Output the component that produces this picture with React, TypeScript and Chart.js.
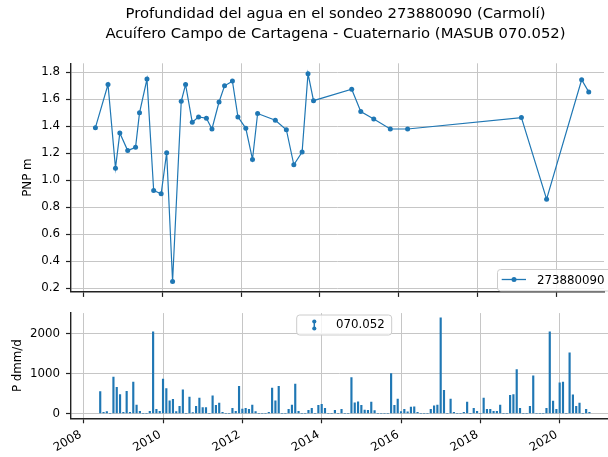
import React, { useEffect, useRef } from "react";
import { Chart, registerables } from "chart.js";

Chart.register(...registerables);

// ---------- data ----------
const titleLines = [
  "Profundidad del agua en el sondeo 273880090 (Carmolí)",
  "Acuífero Campo de Cartagena - Cuaternario (MASUB 070.052)",
];
const depthSeriesName = "273880090";
const precipSeriesName = "070.052";
const depthYLabel = "PNP m";
const precipYLabel = "P dmm/d";

const yearTicks = [2008, 2010, 2012, 2014, 2016, 2018, 2020];
const depthTicks = [0.2, 0.4, 0.6, 0.8, 1.0, 1.2, 1.4, 1.6, 1.8];
const precipTicks = [0, 1000, 2000];

// decimal years of the depth readings
const depthYears = [
  2008.30, 2008.62, 2008.81, 2008.92, 2009.12, 2009.32, 2009.42, 2009.61, 2009.78, 2009.97,
  2010.11, 2010.26, 2010.48, 2010.59, 2010.76, 2010.92, 2011.12, 2011.26, 2011.44, 2011.58,
  2011.78, 2011.92, 2012.12, 2012.29, 2012.42, 2012.87, 2013.15, 2013.34, 2013.55, 2013.70,
  2013.84, 2014.81, 2015.04, 2015.37, 2015.79, 2016.23, 2019.12, 2019.76, 2020.65, 2020.83,
];
const depthValues = [
  1.39, 1.71, 1.09, 1.35, 1.22, 1.245, 1.50, 1.75, 0.925, 0.90,
  1.205, 0.25, 1.585, 1.71, 1.43, 1.47, 1.46, 1.38, 1.58, 1.70,
  1.735, 1.47, 1.385, 1.155, 1.495, 1.445, 1.375, 1.115, 1.21, 1.79,
  1.59, 1.675, 1.51, 1.455, 1.38, 1.38, 1.465, 0.86, 1.745, 1.655,
];

// monthly precipitation, first month below
const precipStartYear = 2008;
const precipStartMonth = 6;
const precipValues = [
  548, 30, 50, 0, 913, 659, 476,
  30, 556, 30, 786, 214, 56, 0, 0, 56, 2048, 103, 56,
  865, 627, 318, 357, 48, 183, 595, 0, 413, 24, 183, 389,
  151, 151, 0, 445, 206, 262, 30, 0, 0, 127, 56, 683,
  111, 127, 103, 214, 48, 0, 0, 0, 30, 635, 318, 683,
  0, 0, 103, 214, 738, 56, 0, 0, 79, 127, 0, 206,
  230, 127, 0, 0, 79, 0, 103, 0, 0, 900, 270, 290,
  206, 87, 79, 286, 71, 0, 0, 0, 0, 1000, 206, 365,
  50, 103, 40, 159, 167, 30, 0, 0, 0, 103, 190, 214,
  2398, 580, 0, 365, 30, 0, 0, 30, 286, 0, 127, 56,
  0, 389, 103, 103, 56, 56, 214, 0, 0, 453, 476, 1104,
  127, 0, 0, 183, 945, 0, 0, 0, 127, 2048, 310, 103,
  770, 786, 0, 1524, 468, 183, 262, 0, 103, 30,
];

// ---------- style ----------
const BLUE = "#1f77b4";
const AXIS = "#222222";
const GRID = "#c6c6c6";
const FAMILY = "'DejaVu Sans', sans-serif";
const TICK_SIZE = 11.8;
const TITLE_SIZE = 14.8;
const X_MIN = 2007.68;
const X_MAX = 2021.218;
const W = 608;
const TOP_H = 305;
const BOT_TOP = 300;
const BOT_H = 157;

function roundRect(ctx: any, x: number, y: number, w: number, h: number, r: number) {
  ctx.beginPath();
  ctx.moveTo(x + r, y);
  ctx.lineTo(x + w - r, y);
  ctx.arcTo(x + w, y, x + w, y + r, r);
  ctx.lineTo(x + w, y + h - r);
  ctx.arcTo(x + w, y + h, x + w - r, y + h, r);
  ctx.lineTo(x + r, y + h);
  ctx.arcTo(x, y + h, x, y + h - r, r);
  ctx.lineTo(x, y + r);
  ctx.arcTo(x, y, x + r, y, r);
  ctx.closePath();
}

function drawYLabel(ctx: any, text: string, x: number, y: number) {
  ctx.save();
  ctx.translate(x, y);
  ctx.rotate(-Math.PI / 2);
  ctx.font = `${TICK_SIZE}px ${FAMILY}`;
  ctx.fillStyle = "#000";
  ctx.textAlign = "center";
  ctx.textBaseline = "alphabetic";
  ctx.fillText(text, 0, 0);
  ctx.restore();
}

const topPlugin = {
  id: "topDecor",
  afterDraw(chart: any) {
    const ctx = chart.ctx;
    const area = chart.chartArea;
    ctx.save();
    ctx.fillStyle = "#000";
    ctx.font = `${TITLE_SIZE}px ${FAMILY}`;
    ctx.textAlign = "center";
    ctx.textBaseline = "alphabetic";
    ctx.fillText(titleLines[0], 335.5, 18.3);
    ctx.fillText(titleLines[1], 335.5, 37.6);
    drawYLabel(ctx, depthYLabel, 30.5, (area.top + area.bottom) / 2);

    // legend
    roundRect(ctx, 497.5, 269.5, 118, 21.5, 3);
    ctx.fillStyle = "rgba(255,255,255,0.8)";
    ctx.fill();
    ctx.strokeStyle = "#cccccc";
    ctx.lineWidth = 1;
    ctx.stroke();
    ctx.strokeStyle = BLUE;
    ctx.lineWidth = 1.3;
    ctx.beginPath();
    ctx.moveTo(501.7, 279.5);
    ctx.lineTo(526, 279.5);
    ctx.stroke();
    ctx.fillStyle = BLUE;
    ctx.beginPath();
    ctx.arc(514, 279.5, 2.5, 0, Math.PI * 2);
    ctx.fill();
    ctx.fillStyle = "#000";
    ctx.font = `${TICK_SIZE}px ${FAMILY}`;
    ctx.textAlign = "left";
    ctx.fillText(depthSeriesName, 537, 283.6);
    ctx.restore();
  },
};

const botPlugin = {
  id: "botDecor",
  afterDraw(chart: any) {
    const ctx = chart.ctx;
    const area = chart.chartArea;
    const xs = chart.scales.x;
    ctx.save();
    drawYLabel(ctx, precipYLabel, 20.5, (area.top + area.bottom) / 2);

    // rotated x tick labels (bbox right at tick, bbox top at y0)
    const asc = 0.928 * TICK_SIZE;
    const desc = 0.236 * TICK_SIZE;
    const y0 = area.bottom + 8.7;
    ctx.font = `${TICK_SIZE}px ${FAMILY}`;
    ctx.fillStyle = "#000";
    ctx.textAlign = "right";
    ctx.textBaseline = "alphabetic";
    yearTicks.forEach((yr) => {
      const px = xs.getPixelForValue(yr);
      const ox = px - 0.5 * desc;
      const oy = y0 + 0.866 * asc;
      ctx.save();
      ctx.translate(ox, oy);
      ctx.rotate(-Math.PI / 6);
      ctx.fillText(String(yr), 0, 0);
      ctx.restore();
    });

    // legend
    const ly = 315 - BOT_TOP;
    roundRect(ctx, 296.7, ly, 95, 20, 3);
    ctx.fillStyle = "rgba(255,255,255,0.8)";
    ctx.fill();
    ctx.strokeStyle = "#cccccc";
    ctx.lineWidth = 1;
    ctx.stroke();
    ctx.strokeStyle = BLUE;
    ctx.lineWidth = 1.5;
    ctx.beginPath();
    ctx.moveTo(314.3, 321.5 - BOT_TOP);
    ctx.lineTo(314.3, 328.5 - BOT_TOP);
    ctx.stroke();
    ctx.fillStyle = BLUE;
    [321.5, 328.5].forEach((yy) => {
      ctx.beginPath();
      ctx.arc(314.3, yy - BOT_TOP, 2.1, 0, Math.PI * 2);
      ctx.fill();
    });
    ctx.fillStyle = "#000";
    ctx.textAlign = "left";
    ctx.fillText(precipSeriesName, 336, 328 - BOT_TOP);
    ctx.restore();
  },
};

function monthToYear(i: number) {
  const m0 = precipStartMonth - 1 + i;
  return precipStartYear + Math.floor(m0 / 12) + (m0 % 12) / 12;
}

function xScale(height: number) {
  return {
    type: "linear",
    min: X_MIN,
    max: X_MAX,
    offset: false,
    afterBuildTicks: (s: any) => {
      s.ticks = yearTicks.map((v) => ({ value: v }));
    },
    afterFit: (s: any) => {
      s.height = height;
    },
    ticks: { display: false },
    grid: {
      offset: false,
      color: GRID,
      lineWidth: 1,
      drawTicks: true,
      tickLength: 5,
      tickColor: AXIS,
      tickWidth: 1.2,
    },
    border: { display: true, color: AXIS, width: 1.4 },
  };
}

function yScale(min: number, max: number, ticks: number[], fmt: (v: number) => string) {
  return {
    type: "linear",
    min,
    max,
    afterBuildTicks: (s: any) => {
      s.ticks = ticks.map((v) => ({ value: v }));
    },
    afterFit: (s: any) => {
      s.width = 71;
    },
    ticks: {
      font: { family: FAMILY, size: TICK_SIZE },
      color: "#000",
      padding: 6,
      callback: (v: any) => fmt(Number(v)),
    },
    grid: {
      color: GRID,
      lineWidth: 1,
      drawTicks: true,
      tickLength: 5,
      tickColor: AXIS,
      tickWidth: 1.2,
    },
    border: { display: true, color: AXIS, width: 1.4 },
  };
}

export default function App() {
  const topRef = useRef<HTMLCanvasElement>(null);
  const botRef = useRef<HTMLCanvasElement>(null);

  useEffect(() => {
    const c1 = new Chart(topRef.current as HTMLCanvasElement, {
      type: "line",
      data: {
        datasets: [
          {
            label: depthSeriesName,
            data: depthYears.map((x, i) => ({ x, y: depthValues[i] })),
            borderColor: BLUE,
            backgroundColor: BLUE,
            borderWidth: 1.2,
            pointRadius: 2.5,
            pointBorderWidth: 0,
            pointBackgroundColor: BLUE,
            tension: 0,
          },
        ],
      },
      options: {
        responsive: false,
        animation: false,
        events: [],
        layout: { padding: { top: 63.3, left: 0, right: 0, bottom: 0 } },
        plugins: { legend: { display: false }, tooltip: { enabled: false } },
        scales: {
          x: xScale(TOP_H - 295.7),
          y: yScale(0.173, 1.867, depthTicks, (v) => v.toFixed(1)),
        },
      } as any,
      plugins: [topPlugin],
    } as any);

    const c2 = new Chart(botRef.current as HTMLCanvasElement, {
      type: "bar",
      data: {
        datasets: [
          {
            label: precipSeriesName,
            data: precipValues.map((v, i) => ({ x: monthToYear(i), y: v })),
            backgroundColor: BLUE,
            borderWidth: 0,
            barThickness: 1.5,
          },
        ],
      },
      options: {
        responsive: false,
        animation: false,
        events: [],
        layout: { padding: { top: 308.3 - BOT_TOP, left: 0, right: 0, bottom: 0 } },
        plugins: { legend: { display: false }, tooltip: { enabled: false } },
        scales: {
          x: xScale(BOT_TOP + BOT_H - 418.3),
          y: yScale(-120, 2518, precipTicks, (v) => String(Math.round(v))),
        },
      } as any,
      plugins: [botPlugin],
    } as any);

    return () => {
      c1.destroy();
      c2.destroy();
    };
  }, []);

  return (
    <div
      style={{
        position: "fixed",
        left: 0,
        top: 0,
        width: W,
        height: 457,
        background: "#fff",
        overflow: "hidden",
      }}
    >
      <canvas
        ref={topRef}
        width={W}
        height={TOP_H}
        style={{ position: "absolute", left: 0, top: 0, width: W, height: TOP_H }}
      />
      <canvas
        ref={botRef}
        width={W}
        height={BOT_H}
        style={{ position: "absolute", left: 0, top: BOT_TOP, width: W, height: BOT_H }}
      />
    </div>
  );
}
